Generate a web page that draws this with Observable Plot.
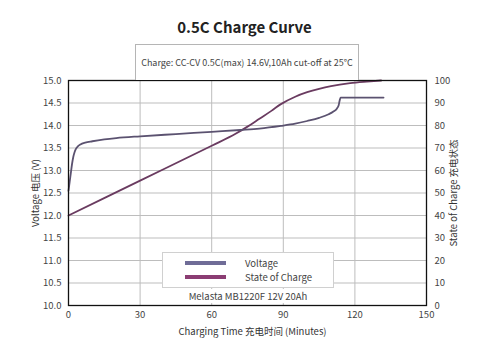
<!DOCTYPE html>
<html>
<head>
<meta charset="utf-8">
<script src="https://cdn.jsdelivr.net/npm/d3@7"></script>
<script src="https://cdn.jsdelivr.net/npm/@observablehq/plot@0.6"></script>
<style>
  html, body { margin: 0; padding: 0; background: #fff; }
  body { width: 489px; height: 354px; position: relative; overflow: hidden; font-family: "Noto Sans CJK SC", "Noto Sans", sans-serif; color: #333; }
  #title { height: 44px; line-height: 54px; text-align: center; font-size: 15px; font-weight: bold; color: #222; }
  #sub { position: absolute; left: 135px; top: 44px; width: 222px; height: 35px; border: 1px solid #b5b5b5; border-bottom: none; background: #fff; font-size: 9px; line-height: 35px; text-align: center; color: #444; white-space: nowrap; z-index: 2; }
  #legend { position: absolute; left: 162px; top: 252px; width: 170px; height: 34px; border: 1px solid #d0d0d0; background: #fff; font-size: 9.5px; color: #444; z-index: 2; }
  .row { position: absolute; left: 0; height: 12px; line-height: 12px; }
  .sw { position: absolute; left: 22px; width: 41px; height: 4px; top: 4px; }
  .lab { position: absolute; left: 82px; white-space: nowrap; }
  #model { position: absolute; left: 162px; top: 289px; width: 172px; text-align: center; font-size: 9.5px; color: #444; background: #fff; z-index: 2; }
  #chart { position: absolute; left: 0; top: 44px; }
</style>
</head>
<body>
<div id="title">0.5C Charge Curve</div>
<div id="sub"></div>
<div id="chart"></div>
<div id="legend"></div>
<div id="model"></div>
<script>
const titleText = "0.5C Charge Curve";
const subtitleText = "Charge: CC-CV 0.5C(max) 14.6V,10Ah cut-off at 25°C";
const modelText = "Melasta MB1220F 12V 20Ah";
const seriesNames = ["Voltage", "State of Charge"];
const xLabel = "Charging Time 充电时间 (Minutes)";
const yLabelLeft = "Voltage 电压 (V)";
const yLabelRight = "State of Charge 充电状态";

const xTicks = [0, 30, 60, 90, 120, 150];
const voltTicks = [10.0, 10.5, 11.0, 11.5, 12.0, 12.5, 13.0, 13.5, 14.0, 14.5, 15.0];
const socTicks = [0, 10, 20, 30, 40, 50, 60, 70, 80, 90, 100];

const voltageTime = [0, 0.5, 1, 1.5, 2, 2.5, 3, 4, 5, 7, 10, 15, 20, 30, 45, 60, 72, 80, 89, 95, 100, 105, 109, 111, 112.5, 113.2, 113.6, 114, 132];
const voltage     = [12.55, 12.75, 12.95, 13.15, 13.3, 13.4, 13.47, 13.54, 13.58, 13.62, 13.65, 13.69, 13.72, 13.76, 13.81, 13.86, 13.9, 13.93, 13.99, 14.04, 14.1, 14.17, 14.25, 14.31, 14.38, 14.45, 14.55, 14.62, 14.62];

const socTime = [0, 30, 60, 70, 75, 80, 85, 89, 95, 100, 105, 110, 118, 125, 131];
const soc     = [40, 55.5, 71, 76.3, 79.5, 83, 86.5, 89.5, 92.8, 94.8, 96.3, 97.5, 98.8, 99.5, 100];

const colors = { voltLine: "#5b5270", socLine: "#6a3b60", voltSwatch: "#6f6c97", socSwatch: "#8b3d73" };

// SOC (0-100) shares the voltage axis (10-15 V)
const socToV = s => 10 + s / 20;

const voltData = voltageTime.map((t, i) => ({ t, v: voltage[i] }));
const socData = socTime.map((t, i) => ({ t, v: socToV(soc[i]) }));

document.getElementById("title").textContent = titleText;
document.getElementById("sub").textContent = subtitleText;
document.getElementById("model").textContent = modelText;

const legend = document.getElementById("legend");
[colors.voltSwatch, colors.socSwatch].forEach((c, i) => {
  const row = document.createElement("div");
  row.className = "row";
  row.style.top = (4 + i * 14) + "px";
  row.style.width = "100%";
  row.innerHTML = `<div class="sw" style="background:${c}"></div><div class="lab"></div>`;
  row.querySelector(".lab").textContent = seriesNames[i];
  legend.appendChild(row);
});

const font = '"Noto Sans CJK SC", "Noto Sans", sans-serif';

const chart = Plot.plot({
  width: 489,
  height: 310,
  marginTop: 36,
  marginLeft: 68,
  marginRight: 63,
  marginBottom: 49,
  style: { fontFamily: font, fontSize: "9.5px", color: "#444", background: "transparent" },
  x: { domain: [0, 150] },
  y: { domain: [10, 15] },
  marks: [
    Plot.gridX(xTicks.slice(1, -1), { stroke: "#bdbdbd", strokeOpacity: 1 }),
    Plot.gridY(voltTicks.slice(1, -1), { stroke: "#bdbdbd", strokeOpacity: 1 }),
    Plot.axisX(xTicks, { tickSize: 0, tickPadding: 6, label: null }),
    Plot.axisY(voltTicks, { anchor: "left", tickSize: 0, tickPadding: 7, tickFormat: d => d.toFixed(1), label: null }),
    Plot.axisY(socTicks.map(socToV), { anchor: "right", tickSize: 0, tickPadding: 8, tickFormat: d => String(Math.round((d - 10) * 20)), label: null }),
    Plot.line(socData, { x: "t", y: "v", stroke: colors.socLine, strokeWidth: 1.8, curve: "monotone-x" }),
    Plot.line(voltData, { x: "t", y: "v", stroke: colors.voltLine, strokeWidth: 1.8, curve: "monotone-x" }),
    Plot.frame({ stroke: "#111", strokeWidth: 1.3 }),
    Plot.text([xLabel], { frameAnchor: "bottom", dy: 26, dx: 5, lineAnchor: "middle", fill: "#333", fontSize: 9.5 }),
    Plot.text([yLabelLeft], { frameAnchor: "left", dx: -33, rotate: -90, lineAnchor: "middle", textAnchor: "middle", fill: "#333", fontSize: 9.5 }),
    Plot.text([yLabelRight], { frameAnchor: "right", dx: 27, rotate: -90, lineAnchor: "middle", textAnchor: "middle", fill: "#333", fontSize: 9.5 })
  ]
});
document.getElementById("chart").appendChild(chart);
</script>
</body>
</html>
